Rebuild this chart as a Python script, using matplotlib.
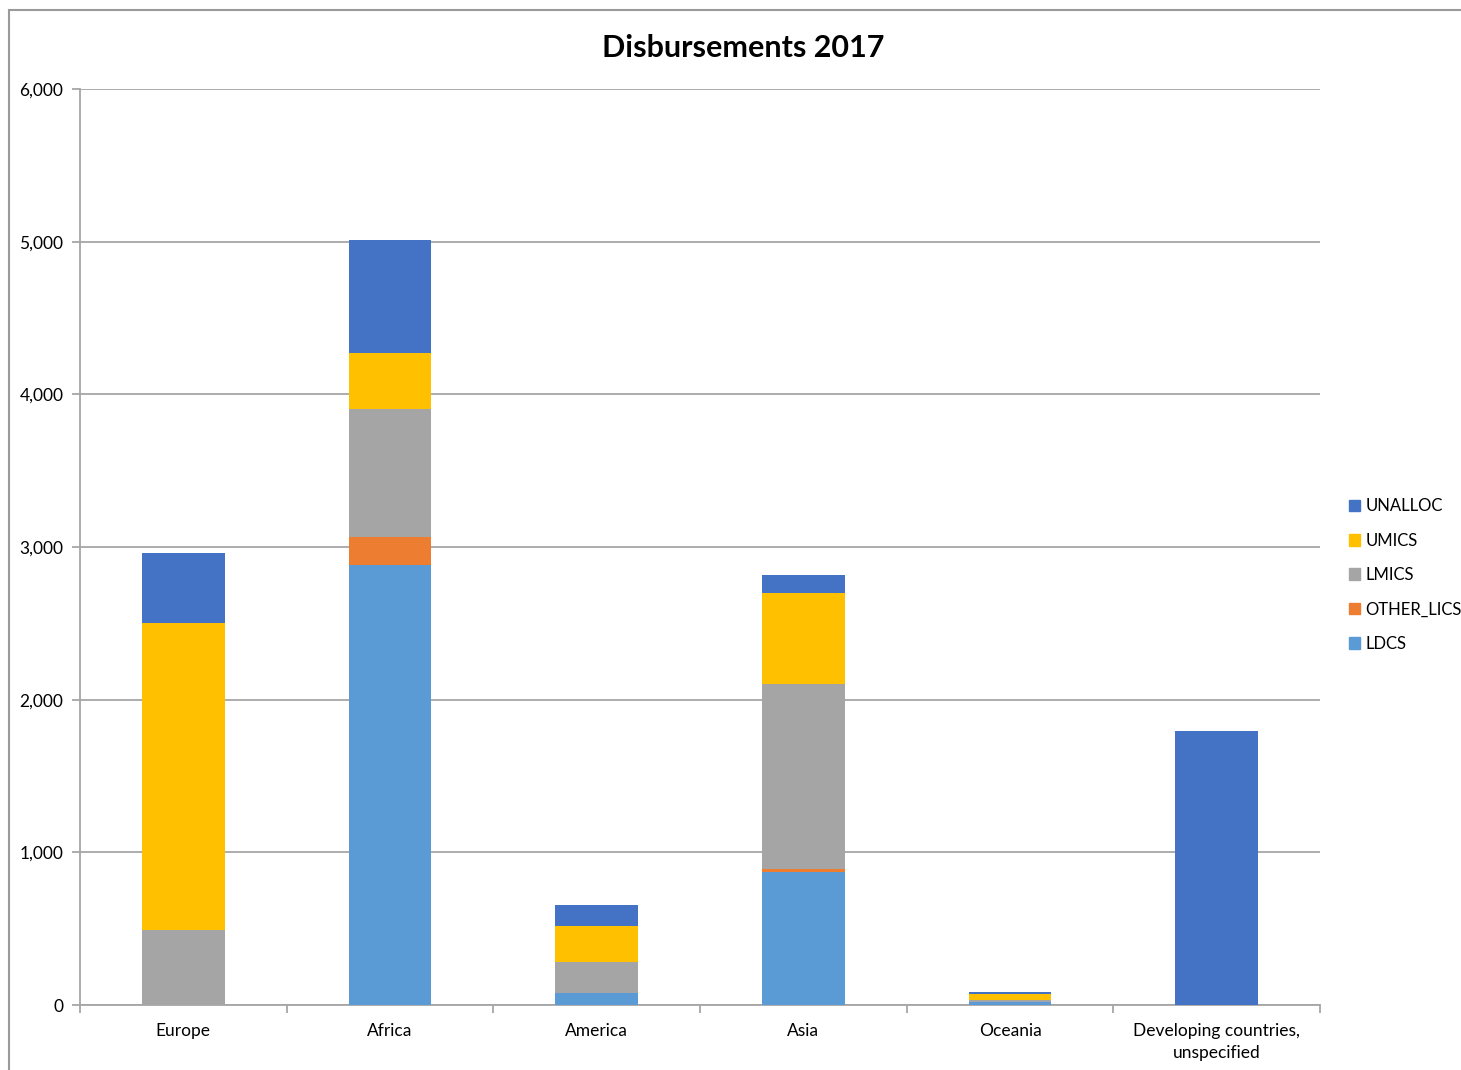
import numpy as np
import matplotlib.pyplot as plt
from matplotlib.patches import Rectangle, Patch
from matplotlib.ticker import FuncFormatter

plt.rcParams['font.family'] = ['Lato', 'DejaVu Sans']

# data (USD million)
REGIONS = ['Europe', 'Africa', 'America', 'Asia', 'Oceania',
           'Developing countries,\nunspecified']
LDCS       = [0,    2882, 79,  871,  18, 0]
OTHER_LICS = [0,    183,  0,   20,   0,  0]
LMICS      = [490,  839,  203, 1212, 12, 0]
UMICS      = [2010, 367,  235, 596,  40, 0]
UNALLOC    = [460,  740,  138, 118,  15, 1795]

SERIES = [('LDCS', LDCS, '#5B9BD5'),
          ('OTHER_LICS', OTHER_LICS, '#ED7D31'),
          ('LMICS', LMICS, '#A5A5A5'),
          ('UMICS', UMICS, '#FFC000'),
          ('UNALLOC', UNALLOC, '#4472C4')]

W, H = 1461, 1070
fig = plt.figure(figsize=(W / 100, H / 100), dpi=100)
ax = fig.add_axes([80 / W, 65 / H, 1240 / W, 916 / H])

x = np.arange(len(REGIONS))
bottom = np.zeros(len(REGIONS))
for name, vals, color in SERIES:
    ax.bar(x, vals, width=0.4, bottom=bottom, color=color, label=name, zorder=3)
    bottom += np.array(vals)

grid_c = '#A6A6A6'
ax.set_xlim(-0.5, len(REGIONS) - 0.5)
ax.set_ylim(0, 6000)
ax.set_yticks(np.arange(0, 6001, 1000))
ax.yaxis.set_major_formatter(FuncFormatter(lambda v, p: f'{int(v):,}'))
ax.grid(axis='y', color=grid_c, linewidth=1.3, zorder=0)
ax.tick_params(axis='y', length=6, color=grid_c, width=1.3, labelsize=12.5, pad=6)

# category labels in the middle, tick marks at the boundaries
ax.set_xticks(x)
ax.set_xticklabels(REGIONS, fontsize=12.5, linespacing=1.45)
ax.set_xticks(np.arange(-0.5, len(REGIONS)), minor=True)
ax.tick_params(axis='x', which='major', length=0, pad=13)
ax.tick_params(axis='x', which='minor', length=6, color=grid_c, width=1.3)

for s in ['top', 'right']:
    ax.spines[s].set_visible(False)
for s in ['left', 'bottom']:
    ax.spines[s].set_color(grid_c)
    ax.spines[s].set_linewidth(1.3)

fig.text(743 / W, 1 - 48 / H, 'Disbursements 2017', ha='center', va='center',
         fontsize=22, fontweight='bold')

handles = [Patch(color=c, label=n) for n, _, c in SERIES][::-1]
fig.legend(handles=handles, loc='center left', bbox_to_anchor=(1342 / W, 1 - 575 / H),
           frameon=False, fontsize=12, handlelength=0.7, handleheight=0.7,
           handletextpad=0.3, labelspacing=1.1, borderaxespad=0)

# outer chart border
fig.patches.append(Rectangle((9 / W, -0.01), 1.1, (H - 10) / H + 0.01,
                             transform=fig.transFigure, fill=False,
                             edgecolor='#9A9A9A', linewidth=1.5))

fig.savefig('out.png', dpi=100)
